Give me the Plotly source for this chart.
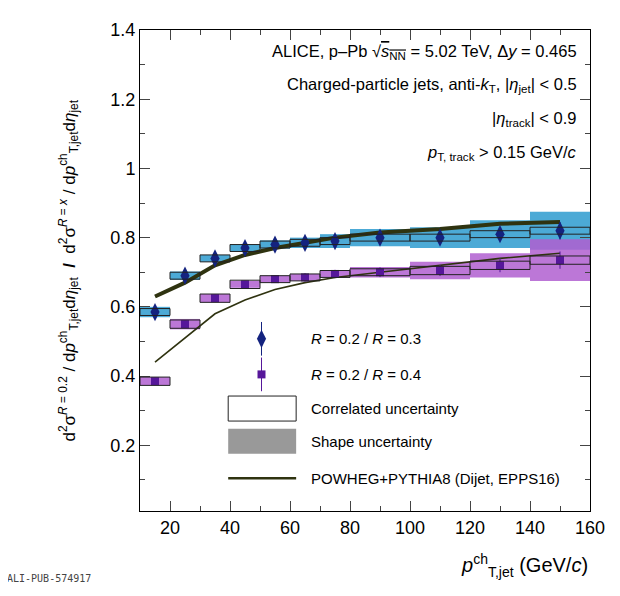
import plotly.graph_objects as go

bin_lo = [10, 20, 30, 40, 50, 60, 70, 80, 100, 120, 140]
bin_hi = [20, 30, 40, 50, 60, 70, 80, 100, 120, 140, 160]
pt = [15, 25, 35, 45, 55, 65, 75, 90, 110, 130, 150]

r03 = [0.585, 0.69, 0.74, 0.77, 0.78, 0.785, 0.79, 0.80, 0.80, 0.81, 0.82]
r03_stat = [0.012, 0.012, 0.012, 0.012, 0.012, 0.012, 0.013, 0.014, 0.016, 0.02, 0.025]
r03_shape = [0.015, 0.012, 0.01, 0.01, 0.012, 0.015, 0.02, 0.025, 0.03, 0.04, 0.055]
r03_corr = [0.01, 0.01, 0.01, 0.01, 0.01, 0.01, 0.01, 0.01, 0.01, 0.01, 0.01]

r04 = [0.385, 0.55, 0.625, 0.665, 0.68, 0.685, 0.695, 0.70, 0.705, 0.72, 0.735]
r04_stat = [0.01, 0.01, 0.01, 0.01, 0.01, 0.012, 0.012, 0.014, 0.016, 0.02, 0.025]
r04_shape = [0.012, 0.015, 0.012, 0.01, 0.01, 0.01, 0.01, 0.015, 0.025, 0.035, 0.06]
r04_corr = [0.012, 0.012, 0.012, 0.012, 0.01, 0.01, 0.01, 0.01, 0.012, 0.012, 0.012]

pw03 = [0.63, 0.67, 0.72, 0.75, 0.77, 0.785, 0.80, 0.815, 0.825, 0.84, 0.845]
pw04 = [0.44, 0.51, 0.58, 0.62, 0.65, 0.67, 0.685, 0.70, 0.72, 0.74, 0.755]

cyan = "#2d9bcf"
purple = "#b05fd0"
fig = go.Figure()
shapes = []

# shape uncertainty (filled) then correlated (open box)
for vals, sh, col in [(r03, r03_shape, cyan), (r04, r04_shape, purple)]:
    for i in range(len(pt)):
        shapes.append(dict(type="rect", xref="x", yref="y", x0=bin_lo[i], x1=bin_hi[i],
                           y0=vals[i] - sh[i], y1=vals[i] + sh[i], fillcolor=col,
                           opacity=0.85, line=dict(width=0), layer="below"))
for vals, co in [(r03, r03_corr), (r04, r04_corr)]:
    for i in range(len(pt)):
        shapes.append(dict(type="rect", xref="x", yref="y", x0=bin_lo[i], x1=bin_hi[i],
                           y0=vals[i] - co[i], y1=vals[i] + co[i],
                           line=dict(color="#222", width=1)))

fig.add_trace(go.Scatter(x=pt, y=pw03, mode="lines", line=dict(color="#2f3310", width=4), showlegend=False))
fig.add_trace(go.Scatter(x=pt, y=pw04, mode="lines", line=dict(color="#2f3310", width=1.6), showlegend=False))
fig.add_trace(go.Scatter(x=pt, y=r03, mode="markers", showlegend=False,
                         marker=dict(symbol="diamond-tall", size=13, color="#14237f"),
                         error_y=dict(array=r03_stat, color="#14237f", thickness=1, width=0)))
fig.add_trace(go.Scatter(x=pt, y=r04, mode="markers", showlegend=False,
                         marker=dict(symbol="square", size=8, color="#56179a"),
                         error_y=dict(array=r04_stat, color="#56179a", thickness=1, width=0)))

# legend drawn in paper coordinates
legend_items = ["<i>R</i> = 0.2 / <i>R</i> = 0.3", "<i>R</i> = 0.2 / <i>R</i> = 0.4",
                "Correlated uncertainty", "Shape uncertainty", "POWHEG+PYTHIA8 (Dijet, EPPS16)"]
leg_y = [0.358, 0.284, 0.213, 0.145, 0.068]
fig.add_trace(go.Scatter(x=[0.27], y=leg_y[:1], xaxis="x2", yaxis="y2", mode="markers",
                         marker=dict(symbol="diamond-tall", size=13, color="#14237f"),
                         error_y=dict(array=[0.035], color="#14237f", thickness=1, width=0), showlegend=False))
fig.add_trace(go.Scatter(x=[0.27], y=leg_y[1:2], xaxis="x2", yaxis="y2", mode="markers",
                         marker=dict(symbol="square", size=8, color="#56179a"),
                         error_y=dict(array=[0.035], color="#56179a", thickness=1, width=0), showlegend=False))
shapes.append(dict(type="rect", xref="paper", yref="paper", x0=0.196, x1=0.347,
                   y0=leg_y[2] - 0.026, y1=leg_y[2] + 0.026, line=dict(color="#222", width=1)))
shapes.append(dict(type="rect", xref="paper", yref="paper", x0=0.196, x1=0.347,
                   y0=leg_y[3] - 0.026, y1=leg_y[3] + 0.026, fillcolor="#999", line=dict(width=0)))
shapes.append(dict(type="line", xref="paper", yref="paper", x0=0.196, x1=0.347,
                   y0=leg_y[4], y1=leg_y[4], line=dict(color="#2f3310", width=2.5)))

ann = []
for t, yy in zip(legend_items, leg_y):
    ann.append(dict(text=t, x=0.375, y=yy, xref="paper", yref="paper", xanchor="left",
                    yanchor="middle", showarrow=False, font=dict(size=15)))

info = ["ALICE, p–Pb √<span style='text-decoration:overline'><i>s</i><sub>NN</sub></span> = 5.02 TeV, Δ<i>y</i> = 0.465",
        "Charged-particle jets, anti-<i>k</i><sub>T</sub>, |<i>η</i><sub>jet</sub>| < 0.5",
        "|<i>η</i><sub>track</sub>| < 0.9",
        "<i>p</i><sub>T, track</sub> > 0.15 GeV/<i>c</i>"]
for t, yy in zip(info, [0.955, 0.885, 0.815, 0.745]):
    ann.append(dict(text=t, x=0.975, y=yy, xref="paper", yref="paper", xanchor="right",
                    yanchor="middle", showarrow=False, font=dict(size=16.5)))

ann.append(dict(text="<i>p</i><sup>ch</sup><sub>T,jet</sub> (GeV/<i>c</i>)", x=1.0, y=-0.08,
                xref="paper", yref="paper", xanchor="right", yanchor="top", showarrow=False,
                font=dict(size=20)))
ann.append(dict(text="d<sup>2</sup>σ<sup><i>R</i> = 0.2</sup> / d<i>p</i><sup>ch</sup><sub>T,jet</sub>d<i>η</i><sub>jet</sub>"
                     "  <b>/</b>  d<sup>2</sup>σ<sup><i>R</i> = <i>x</i></sup> / d<i>p</i><sup>ch</sup><sub>T,jet</sub>d<i>η</i><sub>jet</sub>",
                x=-0.19, y=0.5, xref="paper", yref="paper", textangle=-90, showarrow=False,
                font=dict(size=17)))
ann.append(dict(text="ALI-PUB-574917", x=-0.3, y=-0.155, xref="paper", yref="paper", xanchor="left",
                yanchor="bottom", showarrow=False, font=dict(size=10, family="DejaVu Sans Mono", color="#444")))

axis_common = dict(showline=True, linecolor="black", linewidth=1, mirror="ticks", ticks="inside",
                   ticklen=10, showgrid=False, zeroline=False, tickfont=dict(size=18, color="black"),
                   minor=dict(ticks="inside", ticklen=5))
fig.update_layout(
    width=620, height=596, plot_bgcolor="white", paper_bgcolor="white",
    margin=dict(l=132, r=38, t=20, b=93),
    font=dict(family="Liberation Sans, Arial", color="black"),
    xaxis=dict(range=[10, 160], tickvals=[20, 40, 60, 80, 100, 120, 140, 160], **axis_common),
    yaxis=dict(range=[0.01, 1.4], tickvals=[0.2, 0.4, 0.6, 0.8, 1, 1.2, 1.4],
               ticktext=["0.2", "0.4", "0.6", "0.8", "1", "1.2", "1.4"], **axis_common),
    xaxis2=dict(range=[0, 1], overlaying="x", visible=False),
    yaxis2=dict(range=[0, 1], overlaying="y", visible=False),
    shapes=shapes, annotations=ann,
)
fig.write_html("out.html")
